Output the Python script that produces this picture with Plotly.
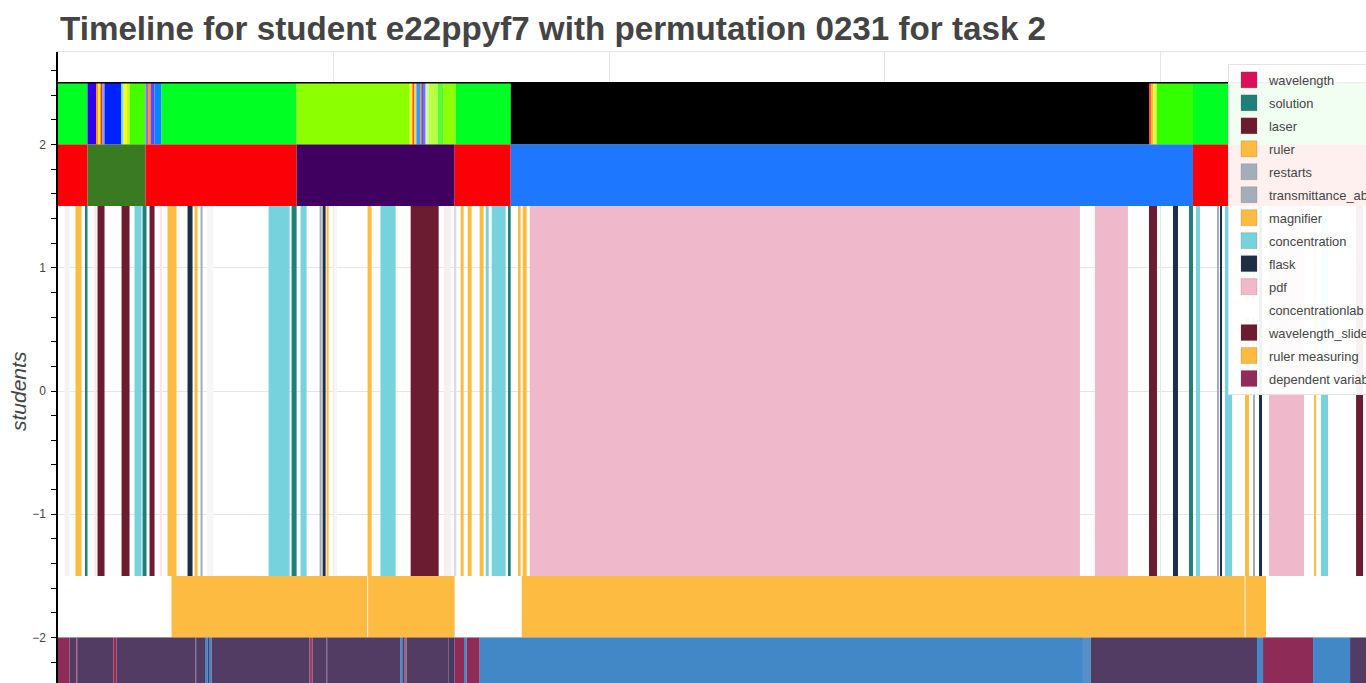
import plotly.graph_objects as go

TITLE = "Timeline for student e22ppyf7 with permutation 0231 for task 2"
Y_TITLE = "students"
END = 2373  # seconds, end of the visible timeline

# ---- row 1 (top band, 2.0 .. 2.5): (start, end, colour)
row1_segments = [
    (0, 53.5, "#00ff22"), (53.5, 69.9, "#3300ee"), (69.9, 73.5, "#ff9900"),
    (73.5, 77.1, "#ffee33"), (77.1, 80.8, "#ff3300"), (80.8, 84.4, "#9999ff"),
    (84.4, 115.3, "#0022ff"), (115.3, 118.9, "#66ddff"), (118.9, 124.4, "#ffff00"),
    (124.4, 129.8, "#ccff00"), (129.8, 158.8, "#44ff00"), (158.8, 164.3, "#9966ff"),
    (164.3, 167.9, "#ff9900"), (167.9, 175.1, "#6644ff"), (175.1, 187.9, "#0088ff"),
    (187.9, 432.9, "#00ff22"), (432.9, 638.0, "#8cff00"), (638.0, 642.9, "#ffee33"),
    (642.9, 647.0, "#ff5500"), (647.0, 650.1, "#ffcc66"), (650.1, 657.4, "#3399ff"),
    (657.4, 659.7, "#ff9933"), (659.7, 663.4, "#2266ff"), (663.4, 667.0, "#8866ff"),
    (667.0, 672.5, "#ccff99"), (672.5, 688.8, "#bbff44"), (688.8, 699.7, "#55ff33"),
    (699.7, 721.5, "#8cff00"), (721.5, 821.3, "#00ff22"), (821.3, 1979.3, "#000000"),
    (1979.3, 1983.0, "#ff5544"), (1983.0, 1987.0, "#ffbb33"), (1987.0, 1993.8, "#ddff33"),
    (1993.8, 2059.1, "#33ff00"), (2059.1, END, "#00ff22"),
]

# ---- row 2 (1.5 .. 2.0)
row2_segments = [
    (0, 53.5, "#fb0007"), (53.5, 158.8, "#3a7a22"), (158.8, 432.9, "#fb0007"),
    (432.9, 719.6, "#3f0060"), (719.6, 821.3, "#fb0007"), (821.3, 2059.1, "#1e78ff"),
    (2059.1, END, "#fb0007"),
]

# ---- row 3 (-1.5 .. 1.5): events (start, end, category)
row3_events = [
    (31.8, 42.7, "ruler"), (49.9, 53.5, "solution"), (71.7, 84.4, "laser"),
    (115.3, 129.8, "laser"), (138.8, 151.6, "concentration"), (153.4, 160.6, "solution"),
    (166.1, 175.1, "laser"), (198.7, 215.1, "ruler"), (235.0, 244.1, "flask"),
    (247.7, 253.2, "magnifier"), (258.6, 262.3, "transmittance_absorbance"),
    (382.1, 420.2, "concentration"), (423.8, 432.9, "solution"), (440.1, 451.0, "concentration"),
    (474.6, 478.3, "restarts"), (480.1, 485.5, "flask"), (487.3, 491.0, "ruler"),
    (561.7, 569.0, "magnifier"), (585.0, 612.6, "concentration"),
    (639.8, 690.6, "wavelength_slider"), (730.5, 736.0, "ruler measuring"),
    (743.2, 750.5, "ruler measuring"), (765.0, 772.3, "ruler"), (775.9, 781.4, "concentration"),
    (786.8, 812.2, "concentration"), (817.7, 821.3, "solution"), (835.8, 839.4, "ruler"),
    (843.1, 850.3, "magnifier"), (855.8, 1854.0, "pdf"), (1881.2, 1941.1, "pdf"),
    (1979.3, 1993.8, "laser"), (2022.8, 2031.9, "flask"), (2051.9, 2059.1, "solution"),
    (2064.6, 2071.8, "concentration"), (2102.7, 2106.3, "restarts"), (2108.1, 2111.8, "flask"),
    (2117.2, 2129.9, "concentration"), (2153.5, 2160.8, "ruler"), (2168.0, 2171.6, "restarts"),
    (2178.9, 2184.4, "flask"), (2197.1, 2260.6, "pdf"), (2278.7, 2282.4, "ruler"),
    (2291.4, 2304.1, "concentration"), (2355.0, 2367.7, "wavelength_slider"),
]

# faint (very light) events in row 3
faint_events = [
    (11.8, 20.9, "#f3f3f3"), (66.2, 69.9, "#f9e3ec"), (186.0, 188.0, "#f9e3ec"),
    (270.0, 282.0, "#f6f6f6"), (500.0, 506.0, "#f6f6f6"), (720.0, 722.5, "#dcdcdc"),
    (700.0, 712.0, "#f9eef2"),
]

# ---- row 4 (-2.0 .. -1.5)
row4_segments = [
    (206.0, 561.0, "#fdbb41"), (562.6, 719.6, "#fdbb41"),
    (841.3, 2152.8, "#fdbb41"), (2154.4, 2191.6, "#fdbb41"),
]

# ---- row 5 (-2.5 .. -2.0)
row5_segments = [
    (0, 20.9, "#8e2b56"), (20.9, 33.6, "#523c63"), (33.6, 35.4, "#b06a8a"),
    (35.4, 100.7, "#523c63"), (100.7, 106.2, "#a0284f"), (106.2, 249.6, "#523c63"),
    (249.6, 251.2, "#8a7399"), (251.2, 267.7, "#523c63"), (267.7, 271.3, "#4288c7"),
    (271.3, 275.0, "#523c63"), (275.0, 278.6, "#4288c7"), (278.6, 456.5, "#523c63"),
    (456.5, 461.9, "#a0406a"), (461.9, 487.3, "#523c63"), (487.3, 488.9, "#8a7399"),
    (488.9, 621.6, "#523c63"), (621.6, 627.1, "#4288c7"), (627.1, 628.9, "#523c63"),
    (628.9, 632.5, "#a0607f"), (632.5, 708.8, "#523c63"), (708.8, 719.6, "#4a3860"),
    (719.6, 737.8, "#8e2b56"), (737.8, 741.4, "#4288c7"), (741.4, 765.0, "#8e2b56"),
    (765.0, 1859.5, "#4288c7"), (1859.5, 1874.0, "#5790c6"), (1874.0, 2175.3, "#523c63"),
    (2175.3, 2186.2, "#4288c7"), (2186.2, 2276.9, "#8e2b56"), (2276.9, 2344.1, "#4288c7"),
    (2344.1, END, "#523c63"),
]

legend_names = [
    "wavelength", "solution", "laser", "ruler", "restarts", "transmittance_absorbance",
    "magnifier", "concentration", "flask", "pdf", "concentrationlab",
    "wavelength_slider", "ruler measuring", "dependent variable",
]
legend_colors = [
    "#d81159", "#1f7f7a", "#6b1c30", "#fdbb41", "#a4aebb", "#a4aebb",
    "#fdbb41", "#76d3de", "#1d2f45", "#efb8cb", "#ffffff",
    "#6b1c30", "#fdbb41", "#8f2c57",
]
category_color = dict(zip(legend_names, legend_colors))

# rows: centre and height in y units
ROWS = {"r1": (2.25, 0.5), "r2": (1.75, 0.5), "r3": (0.0, 3.0), "r4": (-1.75, 0.5), "r5": (-2.25, 0.5)}

fig = go.Figure()


def add_bars(starts, ends, colors, row, name=None):
    yc, h = ROWS[row]
    fig.add_trace(go.Bar(
        orientation="h",
        base=starts,
        x=[e - s for s, e in zip(starts, ends)],
        y=[yc] * len(starts),
        width=[h] * len(starts),
        marker=dict(color=colors, line=dict(width=0)),
        showlegend=False, hoverinfo="skip", name=name or row,
    ))


for row, segs in (("r1", row1_segments), ("r2", row2_segments),
                  ("r4", row4_segments), ("r5", row5_segments)):
    add_bars([s[0] for s in segs], [s[1] for s in segs], [s[2] for s in segs], row)

add_bars([s[0] for s in faint_events], [s[1] for s in faint_events],
         [s[2] for s in faint_events], "r3", "faint")

for cat in legend_names:
    evs = [e for e in row3_events if e[2] == cat]
    if evs:
        add_bars([e[0] for e in evs], [e[1] for e in evs],
                 [category_color[cat]] * len(evs), "r3", cat)

# black rule along the top of the first band
top_edge = ROWS["r1"][0] + ROWS["r1"][1] / 2
fig.add_trace(go.Scatter(x=[0, END], y=[top_edge, top_edge], mode="lines",
                         line=dict(color="black", width=1.5),
                         showlegend=False, hoverinfo="skip"))

# legend entries
for n, c in zip(legend_names, legend_colors):
    fig.add_trace(go.Scatter(
        x=[None], y=[None], mode="markers", name=n, legendgroup=n,
        marker=dict(symbol="square", size=16, color=c,
                    line=dict(width=0.6, color="rgba(120,80,60,0.35)" if c != "#ffffff" else "white")),
        showlegend=True,
    ))

W, H = 1366, 790
L, T, B = 58, 52, 60
PLOT_H = H - T - B
fig.update_layout(
    width=W, height=H,
    margin=dict(l=L, r=0, t=T, b=B, autoexpand=False),
    plot_bgcolor="white", paper_bgcolor="white",
    barmode="overlay",
    font=dict(family="Liberation Sans, Arial, sans-serif", color="#444444"),
    title=dict(text="<b>" + TITLE + "</b>", x=60 / W, xanchor="left",
               xref="container", y=1 - 28 / H, yanchor="middle",
               font=dict(size=33.2, color="#444444")),
    legend=dict(x=(1228 - L) / (W - L), xanchor="left", y=1 - 12 / PLOT_H, yanchor="top",
                bgcolor="rgba(255,255,255,0.94)", bordercolor="#e3e3e3", borderwidth=1,
                font=dict(size=12.9, color="#444444"), tracegroupgap=3.2,
                itemsizing="trace", traceorder="grouped"),
    xaxis=dict(range=[0, END], dtick=500, tick0=0, showgrid=True, gridcolor="#e5e5e5",
               zeroline=False, showline=True, mirror=True, linecolor="#e5e5e5",
               ticks="", showticklabels=True),
    yaxis=dict(range=[-2.75, 2.75], dtick=1, tick0=0, showgrid=True, gridcolor="#e5e5e5",
               zeroline=False, showline=True, linecolor="black", linewidth=1.5,
               ticks="outside", ticklen=5, tickcolor="black", automargin=False,
               tickfont=dict(size=12, color="#444444"), ticklabelstandoff=3,
               minor=dict(dtick=0.2, ticks="outside", ticklen=5, tickcolor="black", showgrid=False)),
    annotations=[dict(text="<i>" + Y_TITLE + "</i>", xref="paper", yref="paper",
                      x=-(L - 18) / (W - L), y=0.5, xanchor="center", yanchor="middle",
                      textangle=-90, showarrow=False,
                      font=dict(size=21, color="#444444"))],
)

fig.write_html(
    "out.html",
    config={"displayModeBar": False},
    post_script="document.body.style.margin='0';document.documentElement.style.overflow='hidden';",
)
